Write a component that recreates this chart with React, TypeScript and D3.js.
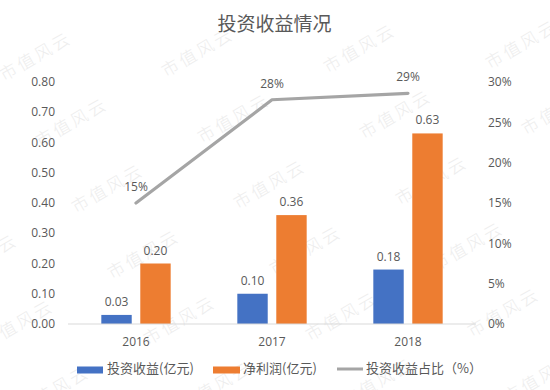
import React from 'react';
import * as d3 from 'd3';

const years = ['2016', '2017', '2018'];
const investIncome = [0.03, 0.10, 0.18];
const netProfit = [0.20, 0.36, 0.63];
const incomeRatio = [0.15, 0.278, 0.286];
const leftTicks = [0, 0.1, 0.2, 0.3, 0.4, 0.5, 0.6, 0.7, 0.8];
const rightTicks = [0, 0.05, 0.1, 0.15, 0.2, 0.25, 0.3];
const seriesNames = ['投资收益(亿元)', '净利润(亿元)', '投资收益占比（%）'];
const title = '投资收益情况';
const watermarkText = '市值风云';

const W = 550, H = 390;
const COLORS = ['#4472C4', '#ED7D31', '#A5A5A5'];
const TXT = '#595959';
const NUM_FONT = '"Open Sans", "Noto Sans", sans-serif';
const CJK_FONT = '"Noto Sans CJK SC", "Noto Sans", sans-serif';

export default function App() {
  const x0 = d3.scaleBand<string>().domain(years).range([68, 476]).paddingInner(0.49).paddingOuter(0.245);
  const x1 = d3.scaleBand<string>().domain(['a', 'b']).range([0, x0.bandwidth()]).paddingInner(0.22);
  const y = d3.scaleLinear().domain([0, 0.8]).range([324, 82]);
  const yR = d3.scaleLinear().domain([0, 0.3]).range([324, 82]);
  const fmtL = d3.format('.2f');
  const fmtR = d3.format('.0%');

  const cx = (yr: string) => (x0(yr) as number) + x0.bandwidth() / 2;
  const line = d3.line<number>().x((_, i) => cx(years[i])).y((d) => yR(d));

  const marks: { x: number; y: number }[] = [];
  for (let r = 0; r < 6; r++) {
    for (let k = -1; k < 4; k++) {
      marks.push({ x: 35 + 36 * r + 162 * k, y: 55 + 66 * r - 4 * k });
    }
  }

  return (
    <svg width={W} height={H} style={{ position: 'absolute', left: 0, top: 0, background: '#fff' }}>
      <rect width={W} height={H} fill="#fff" />
      {/* watermark */}
      <g fill="#ededed" fontFamily={CJK_FONT} fontSize={17} fontWeight={300}>
        {marks.map((m, i) => (
          <text key={i} x={m.x} y={m.y} textAnchor="middle" dominantBaseline="central" letterSpacing={3}
            transform={`rotate(-30 ${m.x} ${m.y})`}>{watermarkText}</text>
        ))}
      </g>

      <text x={274.5} y={31} textAnchor="middle" fontFamily={CJK_FONT} fontSize={19} fill={TXT}>{title}</text>

      {/* axis labels */}
      <g fontFamily={NUM_FONT} fontSize={12} fill={TXT}>
        {leftTicks.map((t) => (
          <text key={t} x={55} y={y(t)} dy="0.35em" textAnchor="end">{fmtL(t)}</text>
        ))}
        {rightTicks.map((t) => (
          <text key={t} x={488} y={yR(t)} dy="0.35em" textAnchor="start">{fmtR(t)}</text>
        ))}
      </g>

      {/* bars */}
      {years.map((yr, i) => {
        const bx0 = (x0(yr) as number) + (x1('a') as number);
        const bx1 = (x0(yr) as number) + (x1('b') as number);
        const bw = x1.bandwidth();
        return (
          <g key={yr}>
            <rect x={bx0} y={y(investIncome[i])} width={bw} height={y(0) - y(investIncome[i])} fill={COLORS[0]} />
            <rect x={bx1} y={y(netProfit[i])} width={bw} height={y(0) - y(netProfit[i])} fill={COLORS[1]} />
            <text x={bx0 + bw / 2} y={y(investIncome[i]) - 9} textAnchor="middle" fontFamily={NUM_FONT} fontSize={12} fill={TXT}>{fmtL(investIncome[i])}</text>
            <text x={bx1 + bw / 2} y={y(netProfit[i]) - 9} textAnchor="middle" fontFamily={NUM_FONT} fontSize={12} fill={TXT}>{fmtL(netProfit[i])}</text>
            <text x={cx(yr)} y={346} textAnchor="middle" fontFamily={NUM_FONT} fontSize={12} fill={TXT}>{yr}</text>
          </g>
        );
      })}

      {/* axis line */}
      <line x1={68} x2={476} y1={y(0)} y2={y(0)} stroke="#d9d9d9" strokeWidth={1} />

      {/* ratio line */}
      <path d={line(incomeRatio) || ''} fill="none" stroke={COLORS[2]} strokeWidth={3.2} strokeLinecap="round" strokeLinejoin="round" />
      {incomeRatio.map((v, i) => (
        <text key={i} x={cx(years[i])} y={yR(v) - 12} textAnchor="middle" fontFamily={NUM_FONT} fontSize={12} fill={TXT}>{fmtR(v)}</text>
      ))}

      {/* legend */}
      <g fontFamily={CJK_FONT} fontSize={13} fill={TXT}>
        <rect x={77} y={366.5} width={26} height={7} fill={COLORS[0]} />
        <text x={107} y={368} dy="0.35em">{seriesNames[0]}</text>
        <rect x={213} y={366.5} width={27} height={7} fill={COLORS[1]} />
        <text x={243} y={368} dy="0.35em">{seriesNames[1]}</text>
        <line x1={337} x2={363} y1={369} y2={369} stroke={COLORS[2]} strokeWidth={3} />
        <text x={366} y={368} dy="0.35em">{seriesNames[2]}</text>
      </g>
    </svg>
  );
}
